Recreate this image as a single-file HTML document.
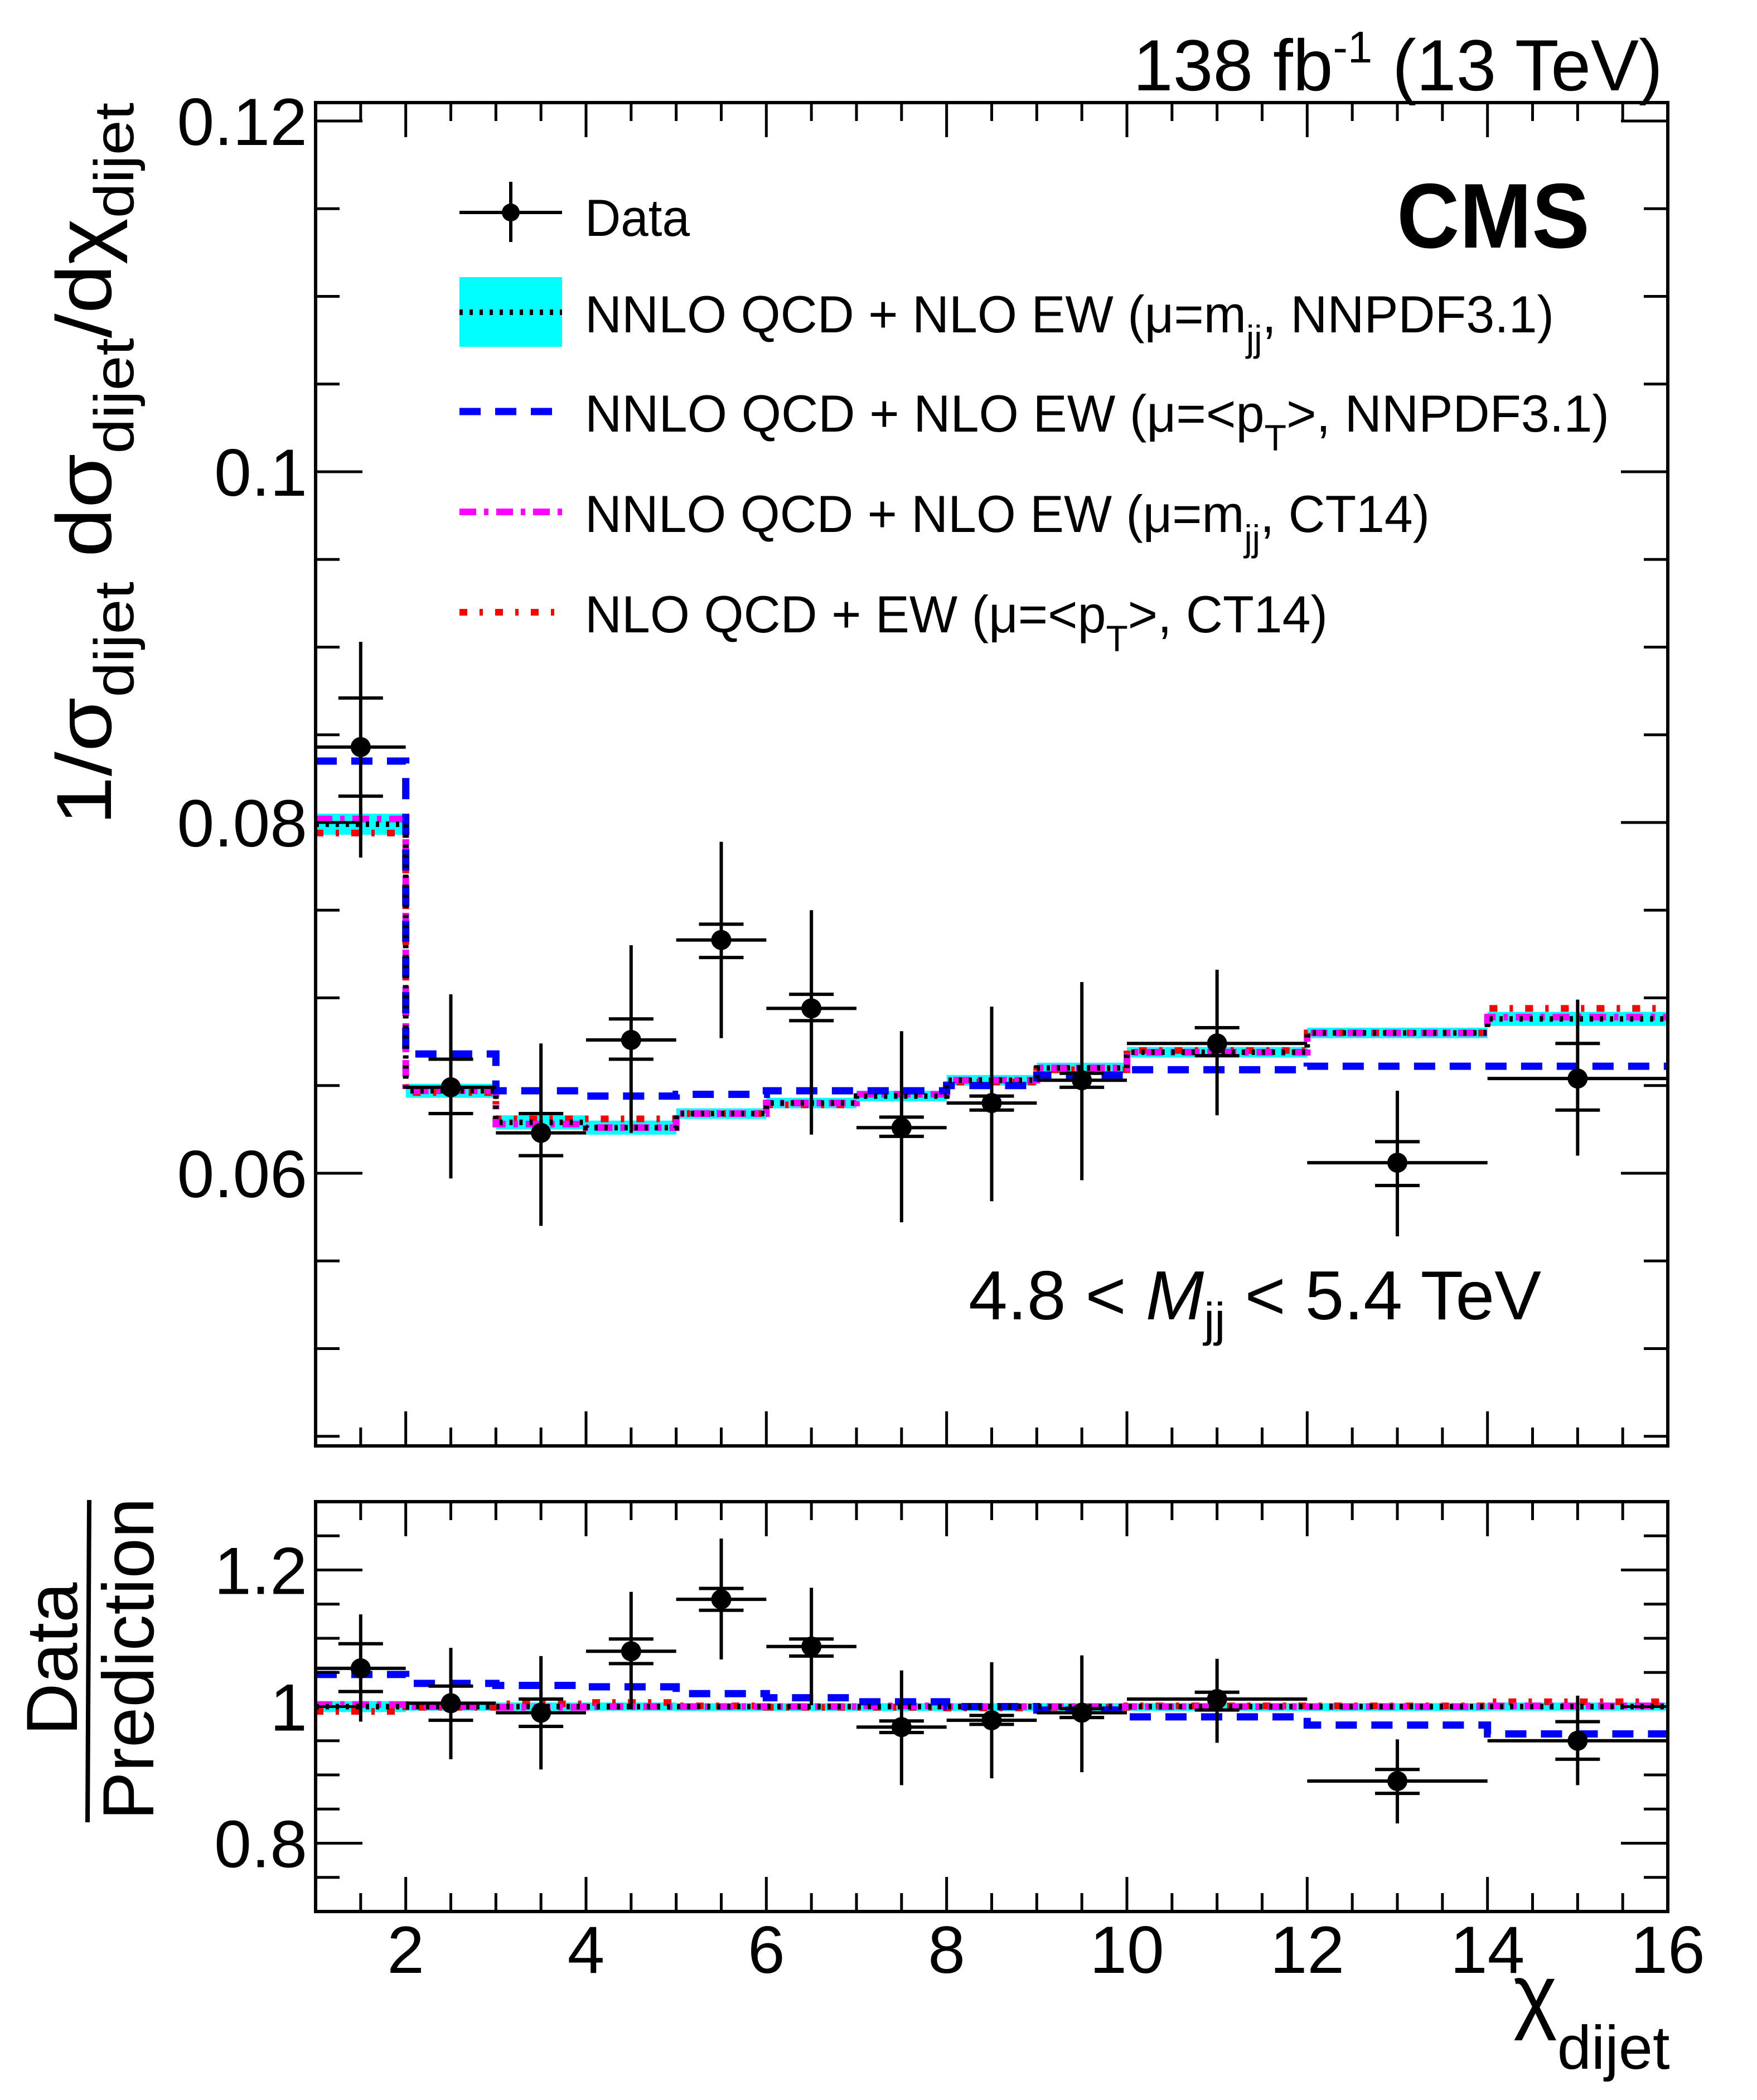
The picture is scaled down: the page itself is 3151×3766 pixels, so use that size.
<!DOCTYPE html>
<html><head><meta charset="utf-8"><style>
html,body{margin:0;padding:0;background:#fff}
svg{display:block;font-family:"Liberation Sans",Arial,sans-serif}
</style></head><body>
<svg id="c" xmlns="http://www.w3.org/2000/svg" width="3151" height="3766" viewBox="0 0 3151 3766">
<rect x="0" y="0" width="3151" height="3766" fill="#fff"/>
<g id="band"></g>
<g id="lines"></g>
<g id="pts"></g>
<g id="axes"></g>
<text x="2982" y="162" font-size="130" text-anchor="end" textLength="950" lengthAdjust="spacingAndGlyphs">138 fb<tspan dy="-50" font-size="80">-1</tspan><tspan dy="50"> (13 TeV)</tspan></text>
<text x="2851" y="444" font-size="165" font-weight="bold" text-anchor="end" textLength="346" lengthAdjust="spacingAndGlyphs">CMS</text>
<text x="1737" y="2366" font-size="124" textLength="1027" lengthAdjust="spacingAndGlyphs">4.8 &lt; <tspan font-style="italic">M</tspan><tspan font-size="85" dy="30">jj</tspan><tspan dy="-30"> &lt; 5.4 TeV</tspan></text>
<text transform="translate(199,1480) rotate(-90)" font-size="140" textLength="1296" lengthAdjust="spacingAndGlyphs">1/σ<tspan font-size="100" dy="40">dijet</tspan><tspan dy="-40"> dσ</tspan><tspan font-size="100" dy="40">dijet</tspan><tspan dy="-40">/dχ</tspan><tspan font-size="100" dy="40">dijet</tspan></text>
<g>
<text transform="translate(138,2975) rotate(-90)" font-size="130" text-anchor="middle">Data</text>
<line x1="160" y1="2690" x2="157" y2="3268" stroke="#000" stroke-width="8"/>
<text transform="translate(275,2975) rotate(-90)" font-size="130" text-anchor="middle">Prediction</text>
</g>
<text x="2714" y="3628" font-size="150">χ<tspan font-size="110" dy="82">dijet</tspan></text>
<g id="legend"></g>
</svg>
<script>
// ---- data ----
const binEdges = [1,2,3,4,5,6,7,8,9,10,12,14,16];
const dataX = [1.5,2.5,3.5,4.5,5.5,6.5,7.5,8.5,9.5,11,13,15];
const dataY = [0.0843,0.0649,0.0623,0.0676,0.0733,0.0694,0.0626,0.0640,0.0653,0.0674,0.0606,0.0654];
const statUp = [0.0871,0.0665,0.0634,0.0688,0.0742,0.0702,0.0632,0.0644,0.0657,0.0683,0.0618,0.0674];
const statDn = [0.0815,0.0634,0.0610,0.0665,0.0723,0.0687,0.0621,0.0636,0.0649,0.0667,0.0593,0.0636];
const totUp = [0.0903,0.0702,0.0674,0.0730,0.0789,0.0750,0.0681,0.0695,0.0709,0.0716,0.0647,0.0699];
const totDn = [0.0780,0.0597,0.0570,0.0623,0.0677,0.0622,0.0572,0.0584,0.0596,0.0633,0.0564,0.0610];
const thNNPDFmjj = [0.0799,0.0647,0.0629,0.0626,0.0634,0.0640,0.0644,0.0653,0.0660,0.0669,0.0680,0.0688];
const thNNPDFmjjErr = [0.0006,0.0004,0.0004,0.0004,0.0003,0.0003,0.0003,0.0003,0.0003,0.0003,0.0003,0.0004];
const thNNPDFpt = [0.0835,0.0668,0.0647,0.0644,0.0645,0.0647,0.0647,0.0650,0.0656,0.0659,0.0661,0.0661];
const thCT14mjj = [0.0802,0.0647,0.0628,0.0626,0.0634,0.0640,0.0645,0.0653,0.0660,0.0669,0.0680,0.0689];
const thCT14pt = [0.0794,0.0646,0.0631,0.0631,0.0634,0.0639,0.0645,0.0652,0.0659,0.0670,0.0680,0.0694];
// ratio panel
const rData = [1.056,1.005,0.991,1.081,1.157,1.088,0.970,0.980,0.991,1.011,0.891,0.950];
const rStatUp = [1.092,1.030,1.011,1.099,1.173,1.099,0.979,0.987,0.997,1.021,0.908,0.978];
const rStatDn = [1.022,0.980,0.971,1.063,1.141,1.074,0.962,0.974,0.984,0.995,0.873,0.923];
const rTotUp = [1.135,1.086,1.074,1.168,1.246,1.174,1.053,1.065,1.075,1.070,0.952,1.016];
const rTotDn = [0.978,0.923,0.908,0.996,1.069,1.002,0.885,0.895,0.904,0.947,0.829,0.885];
const rNNPDFmjj = [1,1,1,1,1,1,1,1,1,1,1,1];
const rNNPDFmjjErr = [0.008,0.006,0.006,0.006,0.005,0.005,0.005,0.005,0.005,0.005,0.005,0.006];
const rNNPDFpt = [1.047,1.034,1.031,1.029,1.019,1.013,1.007,1.000,0.995,0.985,0.973,0.960];
const rCT14mjj = [1.003,1.000,0.999,1.000,1.000,1.000,1.001,1.000,1.000,1.000,1.000,1.001];
const rCT14pt = [0.993,0.999,1.004,1.006,1.001,0.999,0.999,0.998,0.999,1.001,1.001,1.007];
const topTicks = [0.06,0.08,0.1,0.12];
const topTickLabels = ["0.06","0.08","0.1","0.12"];
const botTicks = [0.8,1,1.2];
const botTickLabels = ["0.8","1","1.2"];
const xTicks = [2,4,6,8,10,12,14,16];
const xTickLabels = ["2","4","6","8","10","12","14","16"];

// ---- axes ----
const NS = "http://www.w3.org/2000/svg";
const X0=566,X1=2991;
const xs = v => X0 + (v-1)/15*(X1-X0);
const TOP={y0:2593,y1:184,v0:0.04445,v1:0.12105};
const BOT={y0:3428,y1:2693,v0:0.7,v1:1.3};
const ys = (p,v) => p.y0 - (v-p.v0)/(p.v1-p.v0)*(p.y0-p.y1);
function mk(tag, attrs, parent){const e=document.createElementNS(NS,tag);for(const k in attrs)e.setAttribute(k,attrs[k]);parent.appendChild(e);return e;}
const gA=document.getElementById('axes'), gB=document.getElementById('band'), gL=document.getElementById('lines'), gP=document.getElementById('pts'), gLeg=document.getElementById('legend');

function drawFrame(p, name, yMajor, yMajorLabels, yMinorStep, xLabels){
  const r=mk('rect',{x:X0,y:p.y1,width:X1-X0,height:p.y0-p.y1,fill:'none',stroke:'#000','stroke-width':6},gA);
  
  
  // x ticks
  for(let v=1.5; v<16; v+=0.5){
    const major = Math.abs(v/2-Math.round(v/2))<1e-6;
    const L = major?62:33;
    const t1=mk('line',{x1:xs(v),x2:xs(v),y1:p.y0,y2:p.y0-L,stroke:'#000','stroke-width':5},gA);
    
    
    const t2=mk('line',{x1:xs(v),x2:xs(v),y1:p.y1,y2:p.y1+L,stroke:'#000','stroke-width':5},gA);
    
    
  }
  // y minor ticks
  const nMin = Math.round((p.v1-p.v0)/yMinorStep)+2;
  const start = Math.ceil(p.v0/yMinorStep-1e-6)*yMinorStep;
  for(let i=0;i<nMin;i++){
    const v = start + i*yMinorStep;
    if(v>p.v1) break;
    const y=ys(p,v);
    const major = yMajor.some(m=>Math.abs(m-v)<1e-6);
    const L = major?84:43;
    const a=mk('line',{x1:X0,x2:X0+L,y1:y,y2:y,stroke:'#000','stroke-width':5},gA);
    
    
    const b=mk('line',{x1:X1,x2:X1-L,y1:y,y2:y,stroke:'#000','stroke-width':5},gA);
    
    
  }
  yMajor.forEach((v,i)=>{
    const t=mk('text',{x:551,y:ys(p,v)+43,'font-size':120,'text-anchor':'end'},gA);
    t.textContent=yMajorLabels[i];
    
    
  });
  if(xLabels){
    xTicks.forEach((v,i)=>{
      const t=mk('text',{x:xs(v),y:3538,'font-size':120,'text-anchor':'middle'},gA);
      t.textContent=xTickLabels[i];
      
      
    });
  }
}
drawFrame(TOP,'main-panel',topTicks,topTickLabels,0.005,false);
drawFrame(BOT,'ratio-panel',botTicks,botTickLabels,0.05,true);

function stepPath(p, vals){
  let d='';
  for(let i=0;i<vals.length;i++){
    const y=ys(p,vals[i]);
    d += (i===0?'M':'L')+xs(binEdges[i])+','+y+' L'+xs(binEdges[i+1])+','+y+' ';
  }
  return d;
}
function band(p, vals, errs, name){
  for(let i=0;i<vals.length;i++){
    const yT=ys(p,vals[i]+errs[i]), yB=ys(p,vals[i]-errs[i]);
    const r=mk('rect',{x:xs(binEdges[i]),y:yT,width:xs(binEdges[i+1])-xs(binEdges[i]),height:Math.max(yB-yT,14),fill:'#00ffff'},gB);
    
    
  }
}
const styles = {
  mjj:{stroke:'#000','stroke-width':10,'stroke-dasharray':'6 12'},
  pt:{stroke:'#0000ff','stroke-width':13,'stroke-dasharray':'38 26'},
  ctm:{stroke:'#ff00ff','stroke-width':12,'stroke-dasharray':'30 14 8 14'},
  ctp:{stroke:'#ff0000','stroke-width':12,'stroke-dasharray':'14 22 6 22'}
};
function line(p, vals, st, name){
  const a=Object.assign({d:stepPath(p,vals),fill:'none'},st);
  const e=mk('path',a,gL);
  
  
}
band(TOP,thNNPDFmjj,thNNPDFmjjErr,'nnpdf-mjj-band');
band(BOT,rNNPDFmjj,rNNPDFmjjErr,'ratio-nnpdf-mjj-band');
line(TOP,thCT14pt,styles.ctp,'nlo-ct14-pt-line');
line(TOP,thCT14mjj,styles.ctm,'nnlo-ct14-mjj-line');
line(TOP,thNNPDFpt,styles.pt,'nnlo-nnpdf-pt-line');
line(TOP,thNNPDFmjj,styles.mjj,'nnlo-nnpdf-mjj-line');
line(BOT,rCT14pt,styles.ctp,'ratio-nlo-ct14-pt-line');
line(BOT,rCT14mjj,styles.ctm,'ratio-nnlo-ct14-mjj-line');
line(BOT,rNNPDFpt,styles.pt,'ratio-nnlo-nnpdf-pt-line');
line(BOT,rNNPDFmjj,styles.mjj,'ratio-nnlo-nnpdf-mjj-line');

function points(p, x, y, su, sd, tu, td, name){
  for(let i=0;i<x.length;i++){
    const g=mk('g',{},gP);
    
    
    const cx=xs(x[i]), half=(xs(binEdges[i+1])-xs(binEdges[i]))/2;
    mk('line',{x1:cx-half,x2:cx+half,y1:ys(p,y[i]),y2:ys(p,y[i]),stroke:'#000','stroke-width':6},g);
    mk('line',{x1:cx,x2:cx,y1:ys(p,tu[i]),y2:ys(p,td[i]),stroke:'#000','stroke-width':6},g);
    mk('line',{x1:cx-40,x2:cx+40,y1:ys(p,su[i]),y2:ys(p,su[i]),stroke:'#000','stroke-width':6},g);
    mk('line',{x1:cx-40,x2:cx+40,y1:ys(p,sd[i]),y2:ys(p,sd[i]),stroke:'#000','stroke-width':6},g);
    mk('circle',{cx:cx,cy:ys(p,y[i]),r:18,fill:'#000'},g);
  }
}
points(TOP,dataX,dataY,statUp,statDn,totUp,totDn,'data-point');
points(BOT,dataX,rData,rStatUp,rStatDn,rTotUp,rTotDn,'ratio-point');

// ---- legend ----
const legRows=[381,560,738,918,1098];
(function(){
  const y=legRows[0];
  const g=mk('g',{},gLeg);
  
  
  mk('line',{x1:824,x2:1008,y1:y,y2:y,stroke:'#000','stroke-width':6},g);
  mk('line',{x1:916,x2:916,y1:326,y2:434,stroke:'#000','stroke-width':6},g);
  mk('circle',{cx:916,cy:y,r:16,fill:'#000'},g);
  const t=mk('text',{x:1049,y:y+42,'font-size':94,textLength:188,lengthAdjust:'spacingAndGlyphs'},g);
  t.textContent='Data';
})();
const legTexts=[
  ['NNLO QCD + NLO EW (μ=m','jj',', NNPDF3.1)',1738],
  ['NNLO QCD + NLO EW (μ=<p','T','>, NNPDF3.1)',1837],
  ['NNLO QCD + NLO EW (μ=m','jj',', CT14)',1515],
  ['NLO QCD + EW (μ=<p','T','>, CT14)',1332]
];
const legStyles=[styles.mjj,styles.pt,styles.ctm,styles.ctp];
const legNames=['legend-entry-nnpdf-mjj','legend-entry-nnpdf-pt','legend-entry-ct14-mjj','legend-entry-nlo-ct14-pt'];
legTexts.forEach((lt,i)=>{
  const y=legRows[i+1];
  const g=mk('g',{},gLeg);
  
  
  if(i===0) mk('rect',{x:824,y:497,width:184,height:125,fill:'#00ffff'},g);
  mk('line',Object.assign({x1:824,x2:1008,y1:y,y2:y},legStyles[i]),g);
  const t=mk('text',{x:1049,y:y+36,'font-size':94,textLength:lt[3],lengthAdjust:'spacingAndGlyphs'},g);
  const a=document.createElementNS(NS,'tspan'); a.textContent=lt[0]; t.appendChild(a);
  const b=document.createElementNS(NS,'tspan'); b.textContent=lt[1]; b.setAttribute('font-size','66'); b.setAttribute('dy','34'); t.appendChild(b);
  const c=document.createElementNS(NS,'tspan'); c.textContent=lt[2]; c.setAttribute('dy','-34'); t.appendChild(c);
});
</script>
</body></html>
